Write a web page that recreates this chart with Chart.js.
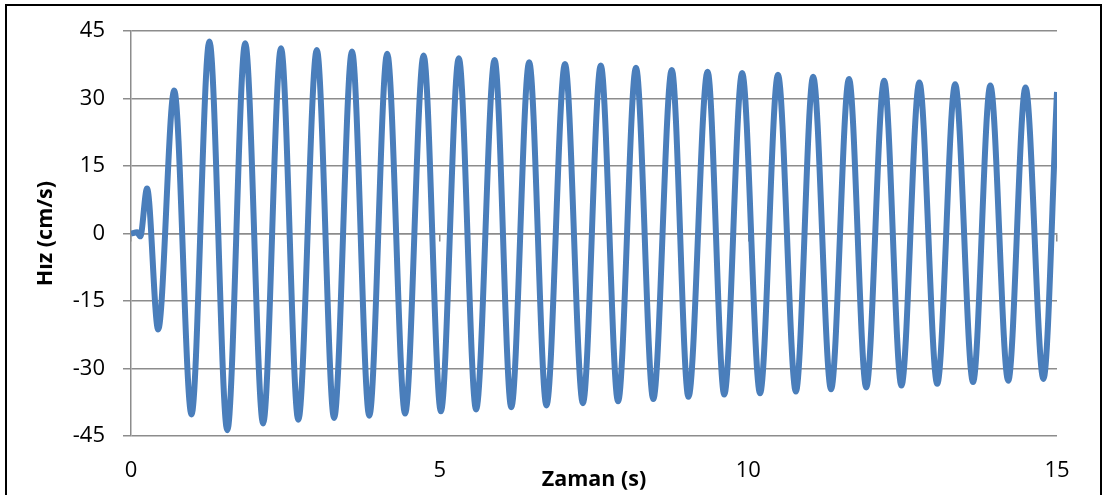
<!DOCTYPE html>
<html>
<head>
<meta charset="utf-8">
<script src="https://cdn.jsdelivr.net/npm/chart.js@4/dist/chart.umd.min.js"></script>
<style>
  body { margin: 0; background: #fff; }
  #frame {
    position: absolute;
    left: 5px;
    top: 4px;
    width: 1093px;
    height: 500px;
    border: 2px solid #000;
  }
  #wrap { position: absolute; left: 0; top: 0; width: 1102px; height: 495px; }
</style>
</head>
<body>
<div id="frame"></div>
<div id="wrap"><canvas id="hizChart" width="1102" height="495"></canvas></div>
<script>
// peaks / troughs (time in s, velocity in cm/s)
const times = [
  0, 0.1, 0.15, 0.26, 0.44, 0.70, 0.98, 1.27, 1.56, 1.85, 2.14, 2.43, 2.71,
  3.01, 3.29, 3.58, 3.86, 4.15, 4.44, 4.74, 5.02, 5.31, 5.59, 5.89, 6.16,
  6.45, 6.73, 7.03, 7.32, 7.61, 7.89, 8.18, 8.46, 8.76, 9.03, 9.34, 9.61,
  9.90, 10.19, 10.48, 10.77, 11.05, 11.34, 11.63, 11.91, 12.20, 12.48,
  12.77, 13.06, 13.35, 13.64, 13.92, 14.21, 14.49, 14.78, 15.0,
];
const velocities = [
  0, 0.3, -0.6, 10, -21.3, 31.8, -40.2, 42.7, -43.7, 42.3, -42.2, 41.2, -41.4,
  40.8, -41, 40.5, -40.5, 40, -40, 39.6, -39.5, 39, -39.1, 38.6, -38.6,
  38.1, -38.2, 37.7, -37.7, 37.4, -37.3, 36.9, -36.8, 36.4, -36.3, 36, -35.8,
  35.7, -35.5, 35.3, -35.1, 34.9, -34.6, 34.4, -34.2, 34, -33.8,
  33.6, -33.4, 33.2, -33, 32.9, -32.7, 32.5, -32.3, 31.5,
];
const xTicks = [0, 5, 10, 15];
const yTicks = [-45, -30, -15, 0, 15, 30, 45];

const GRID_COLOR = "#8c8c8c";
const LINE_COLOR = "#4a7ebb";
const FONT_FAMILY = "'Open Sans', Lato, sans-serif";

const points = times.map((t, i) => ({ x: t, y: velocities[i] }));

const hizChart = new Chart(document.getElementById("hizChart"), {
  type: "line",
  data: {
    datasets: [
      {
        label: "Hız",
        data: points,
        borderColor: LINE_COLOR,
        borderWidth: 6,
        pointRadius: 0,
        cubicInterpolationMode: "monotone",
        fill: false,
      },
    ],
  },
  options: {
    responsive: false,
    animation: false,
    layout: {
      padding: { left: 0, top: 29, right: 45, bottom: 0 },
    },
    plugins: {
      legend: { display: false },
      tooltip: { enabled: false },
    },
    scales: {
      x: {
        type: "linear",
        position: "bottom",
        min: xTicks[0],
        max: xTicks[xTicks.length - 1],
        afterBuildTicks: (scale) => {
          scale.ticks = xTicks.map((v) => ({ value: v }));
        },
        afterFit: (scale) => {
          scale.height = 59;
        },
        grid: { display: false, drawTicks: false },
        border: { display: false },
        ticks: {
          padding: 22,
          color: "#000",
          font: { family: FONT_FAMILY, size: 22 },
        },
        title: {
          display: true,
          text: "Zaman (s)",
          color: "#000",
          font: { family: FONT_FAMILY, size: 21.5, weight: "bold" },
          padding: { top: 0, bottom: 2 },
        },
      },
      // axis line crossing at y = 0 with downward tick marks
      x0: {
        type: "linear",
        axis: "x",
        position: { y: 0 },
        min: xTicks[0],
        max: xTicks[xTicks.length - 1],
        afterBuildTicks: (scale) => {
          scale.ticks = xTicks.map((v) => ({ value: v }));
        },
        grid: {
          drawOnChartArea: false,
          drawTicks: true,
          tickLength: 7,
          color: GRID_COLOR,
          lineWidth: 1.5,
        },
        border: { display: true, color: GRID_COLOR, width: 1.5 },
        ticks: { display: false },
      },
      y: {
        type: "linear",
        position: "left",
        min: yTicks[0],
        max: yTicks[yTicks.length - 1],
        afterBuildTicks: (scale) => {
          scale.ticks = yTicks.map((v) => ({ value: v }));
        },
        afterFit: (scale) => {
          scale.width = 131;
        },
        grid: {
          color: GRID_COLOR,
          lineWidth: 1.5,
          tickLength: 8,
        },
        border: { display: true, color: GRID_COLOR, width: 1.5 },
        ticks: {
          padding: 18,
          color: "#000",
          font: { family: FONT_FAMILY, size: 22 },
        },
        title: {
          display: true,
          text: "Hız (cm/s)",
          color: "#000",
          font: { family: FONT_FAMILY, size: 21.5, weight: "bold" },
          padding: { top: 33, bottom: 0 },
        },
      },
    },
  },
});
</script>
</body>
</html>
